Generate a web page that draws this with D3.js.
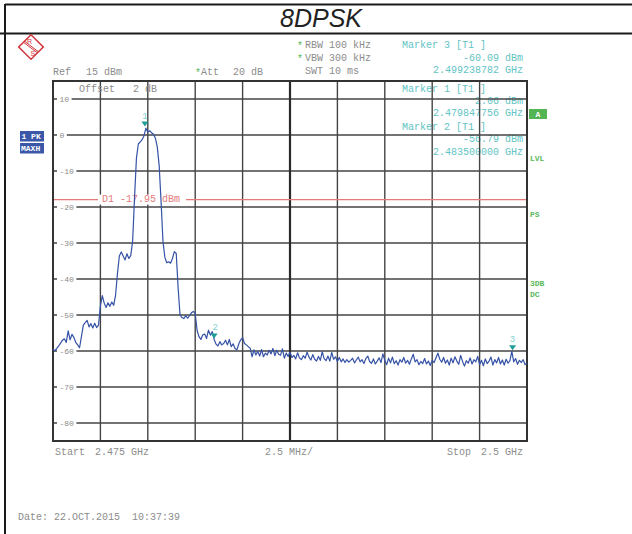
<!DOCTYPE html>
<html><head><meta charset="utf-8">
<script src="https://cdn.jsdelivr.net/npm/d3@7"></script>
<style>
html,body{margin:0;padding:0;background:#fff;}
svg{display:block;}
</style></head>
<body>
<svg id="c" width="632" height="534"></svg>
<script>
// ---- data ----
const title = "8DPSK";
const sweepStartGHz = 2.475;
const sweepStopGHz = 2.5;
const sweepStepMHz = 0.1;
const traceDbm = [
-59.7,-59.9,-59.3,-58.6,-57.8,-57.0,-56.6,-57.6,-54.4,-56.9,
-55.4,-56.2,-57.6,-58.3,-59.1,-56.0,-52.8,-52.1,-51.5,-53.3,
-52.4,-53.6,-52.3,-53.5,-52.8,-47.5,-44.6,-46.7,-47.9,-46.6,
-47.6,-46.4,-47.3,-44.5,-38.5,-33.6,-32.5,-33.6,-34.7,-33.0,
-34.3,-33.5,-29.5,-17.5,-6.5,-2.5,-1.9,-1.3,-0.2,1.9,
0.8,1.2,0.6,0.2,-0.9,-3.3,-8.5,-18.5,-29.5,-34.0,
-35.5,-35.2,-35.6,-34.3,-32.4,-32.9,-42.5,-50.0,-50.7,-51.0,
-50.2,-50.9,-50.2,-49.4,-49.0,-49.5,-54.3,-56.0,-56.8,-55.5,
-55.3,-56.5,-54.2,-55.6,-54.6,-56.8,-58.1,-58.6,-57.4,-58.3,
-57.9,-57.0,-58.3,-56.8,-58.8,-58.0,-59.3,-59.7,-58.0,-56.9,
-56.3,-57.9,-58.3,-58.8,-59.2,-61.6,-59.7,-61.1,-60.1,-61.4,
-59.6,-61.6,-60.6,-61.1,-59.8,-60.8,-59.3,-61.3,-59.8,-60.9,
-61.2,-59.4,-62.0,-60.6,-61.5,-60.3,-61.8,-61.2,-62.2,-60.5,
-61.9,-62.4,-61.3,-62.0,-60.3,-61.7,-62.5,-61.0,-62.3,-62.8,
-61.5,-62.6,-60.2,-62.1,-62.7,-61.4,-62.8,-60.4,-62.3,-61.6,
-62.9,-61.8,-63.0,-62.2,-63.2,-62.4,-63.1,-62.6,-62.0,-63.3,
-62.5,-61.7,-63.0,-62.4,-63.5,-62.1,-61.4,-62.9,-63.4,-62.2,
-63.6,-62.8,-61.9,-63.2,-60.8,-62.6,-63.8,-62.0,-63.3,-61.7,
-63.5,-62.7,-63.9,-62.4,-63.1,-61.8,-63.4,-62.6,-63.7,-62.2,
-60.9,-63.0,-62.4,-63.8,-62.9,-63.5,-62.1,-63.6,-62.8,-64.0,
-62.6,-63.2,-61.9,-60.6,-62.3,-63.1,-61.8,-63.4,-62.5,-63.9,
-62.0,-63.3,-61.6,-62.8,-63.7,-61.2,-62.9,-64.2,-62.7,-63.4,
-61.9,-63.6,-62.4,-63.0,-61.5,-63.8,-62.6,-64.1,-62.2,-63.5,
-62.8,-61.7,-63.9,-62.4,-63.3,-61.8,-63.6,-62.5,-63.9,-62.3,
-63.4,-62.7,-60.1,-63.0,-62.1,-63.7,-62.6,-63.2,-62.4,-63.8,
-63.3
];
const yTicks = [10,0,-10,-20,-30,-40,-50,-60,-70,-80];
const xDivisions = [0,1,2,3,4,5,6,7,8,9,10];
const markerIds = ["1","2","3"];
const markerFreqGHz = [2.479847756, 2.4835, 2.499238782];
const markerDbm = [2.06, -56.79, -60.09];
const displayLineDbm = -17.95;
const refLevel = 15;
const bottomLevel = -85;

// ---- layout ----
const svg = d3.select("#c");
const L = 53, R = 527, T = 81, B = 441;
const x = d3.scaleLinear().domain([sweepStartGHz, sweepStopGHz]).range([L, R]);
const y = d3.scaleLinear().domain([bottomLevel, refLevel]).range([B, T]);
const mono = "'Liberation Mono','DejaVu Sans Mono',monospace";
const grey = "#8c8c8c", cyan = "#62c4c4", green = "#5bb85b";

// outer frame
svg.append("line").attr("x1",5).attr("x2",632).attr("y1",4.5).attr("y2",4.5).attr("stroke","#1a1a1a").attr("stroke-width",2);
svg.append("line").attr("x1",0).attr("x2",632).attr("y1",33.5).attr("y2",33.5).attr("stroke","#1a1a1a").attr("stroke-width",2);
svg.append("line").attr("x1",5).attr("x2",5).attr("y1",4).attr("y2",534).attr("stroke","#1a1a1a").attr("stroke-width",2);
svg.append("text").attr("x",321).attr("y",27).attr("text-anchor","middle")
  .attr("font-family","'Liberation Sans',Arial,sans-serif").attr("font-style","italic")
  .attr("font-size",25).attr("fill","#222").text(title);

// R&S logo
const red = "#d0343c";
const logo = svg.append("g").attr("transform","translate(31,47)");
logo.append("rect").attr("x",-8.7).attr("y",-8.7).attr("width",17.4).attr("height",17.4)
  .attr("transform","rotate(45)").attr("fill","none").attr("stroke",red).attr("stroke-width",1.5);
logo.append("line").attr("x1",-6.2).attr("y1",-5.6).attr("x2",7.2).attr("y2",4.6).attr("stroke",red).attr("stroke-width",1);
logo.append("line").attr("x1",-7.2).attr("y1",-4.4).attr("x2",6.2).attr("y2",5.6).attr("stroke",red).attr("stroke-width",1);
logo.append("text").attr("x",-1.5).attr("y",-2.6).attr("font-size",7).attr("font-family","'Liberation Sans',sans-serif").attr("fill",red).attr("text-anchor","middle").text("R");
logo.append("text").attr("x",1.8).attr("y",9.4).attr("font-size",7).attr("font-family","'Liberation Sans',sans-serif").attr("fill",red).attr("text-anchor","middle").text("S");

function txt(xp, yp, s, fill, anchor, size){
  return svg.append("text").attr("x",xp).attr("y",yp).attr("font-family",mono)
    .attr("font-size",size||10).attr("fill",fill).attr("text-anchor",anchor||"start")
    .attr("dominant-baseline","middle").attr("xml:space","preserve").text(s);
}
// header
txt(53,72,"Ref",grey); txt(86,72,"15 dBm",grey);
txt(195,73,"*",green); txt(201,72,"Att",grey); txt(233,72,"20 dB",grey);
txt(297,46,"*",green); txt(305,45,"RBW 100 kHz",grey);
txt(297,59,"*",green); txt(305,58,"VBW 300 kHz",grey);
txt(305,71,"SWT 10 ms",grey);

// marker info (behind grid)
txt(402,45,"Marker 3 [T1 ]",cyan);
txt(523,58,"-60.09 dBm",cyan,"end");
txt(523,70.5,"2.499238782 GHz",cyan,"end");
txt(402,89,"Marker 1 [T1 ]",cyan);
txt(523,101,"2.06 dBm",cyan,"end");
txt(523,113.5,"2.479847756 GHz",cyan,"end");
txt(402,127,"Marker 2 [T1 ]",cyan);
txt(523,139,"-56.79 dBm",cyan,"end");
txt(523,152.5,"2.483500000 GHz",cyan,"end");

// grid
const g = svg.append("g");
g.selectAll("line.h").data(yTicks).join("line").attr("class","h")
  .attr("x1",L).attr("x2",R).attr("y1",d=>y(d)).attr("y2",d=>y(d))
  .attr("stroke","#444").attr("stroke-width",1.4);
g.selectAll("line.v").data(xDivisions.slice(1,-1)).join("line").attr("class","v")
  .attr("x1",d=>x(sweepStartGHz + d*0.0025)).attr("x2",d=>x(sweepStartGHz + d*0.0025))
  .attr("y1",T).attr("y2",B)
  .attr("stroke",d=>d===5?"#2a2a2a":"#444").attr("stroke-width",d=>d===5?2.2:1.4);
// y tick labels with white backing
const lab = svg.append("g");
yTicks.forEach(v=>{
  const s = String(v);
  const w = s.length*4.8;
  lab.append("rect").attr("x",57).attr("y",y(v)-4).attr("width",w+5).attr("height",8).attr("fill","#fff");
  lab.append("text").attr("x",59.5).attr("y",y(v)+0.5).attr("font-family",mono).attr("font-size",8)
    .attr("fill","#8a8a8a").attr("dominant-baseline","middle").text(s);
});
// offset label
txt(79,89,"Offset",grey); txt(133,89,"2 dB",grey);

// display line
const dy = y(displayLineDbm);
svg.append("line").attr("x1",L).attr("x2",R).attr("y1",dy).attr("y2",dy).attr("stroke","#e57a7a").attr("stroke-width",1.2);
svg.append("rect").attr("x",98).attr("y",dy-5).attr("width",88).attr("height",10).attr("fill","#fff");
txt(102,dy,"D1 -17.95 dBm","#e57a7a");

// plot border
svg.append("rect").attr("x",L).attr("y",T).attr("width",R-L).attr("height",B-T)
  .attr("fill","none").attr("stroke","#333").attr("stroke-width",2);

// trace
const line = d3.line()
  .x((d,i)=>x(sweepStartGHz + i*sweepStepMHz/1000))
  .y(d=>y(d));
svg.append("path").datum(traceDbm).attr("d",line).attr("fill","none")
  .attr("stroke","#3552a6").attr("stroke-width",1.2).attr("stroke-linejoin","round");

// markers
markerIds.forEach((id,i)=>{
  const mx = x(markerFreqGHz[i]), my = y(markerDbm[i]);
  svg.append("path").attr("d",`M${mx-3.5},${my-6}L${mx+3.5},${my-6}L${mx},${my-1}Z`).attr("fill","#1f9e98");
  svg.append("text").attr("x",mx+ (id==="2"?1:0)).attr("y",my-9).attr("text-anchor","middle")
    .attr("font-family",mono).attr("font-size",9).attr("fill","#7fd0d0").text(id);
});

// left boxes
function box(x0,y0,w,h,fill,s,tx){
  svg.append("rect").attr("x",x0).attr("y",y0).attr("width",w).attr("height",h).attr("fill",fill);
  svg.append("text").attr("x",tx).attr("y",y0+h/2+0.5).attr("font-family",mono).attr("font-weight","bold")
    .attr("font-size",8).attr("fill","#fff").attr("dominant-baseline","middle").attr("xml:space","preserve").text(s);
}
box(20,131,24,10.5,"#3b57a8","1 PK",21.5);
box(20,143,24,10.5,"#3b57a8","MAXH",21);
// right side
svg.append("rect").attr("x",529).attr("y",109).attr("width",18).attr("height",10).attr("fill","#52b452");
svg.append("text").attr("x",538).attr("y",114.5).attr("text-anchor","middle").attr("font-family",mono)
  .attr("font-weight","bold").attr("font-size",8).attr("fill","#fff").attr("dominant-baseline","middle").text("A");
[["LVL",158.5],["PS",215],["3DB",283.5],["DC",294.5]].forEach(d=>{
  svg.append("text").attr("x",530).attr("y",d[1]).attr("font-family",mono).attr("font-weight","bold")
    .attr("font-size",8).attr("fill",green).attr("dominant-baseline","middle").text(d[0]);
});

// bottom
txt(55,452,"Start",grey); txt(95,452,"2.475 GHz",grey);
txt(265,452,"2.5 MHz/",grey);
txt(447,452,"Stop",grey); txt(523,452,"2.5 GHz",grey,"end");
txt(18,517,"Date: 22.OCT.2015  10:37:39",grey);
</script>
</body></html>
